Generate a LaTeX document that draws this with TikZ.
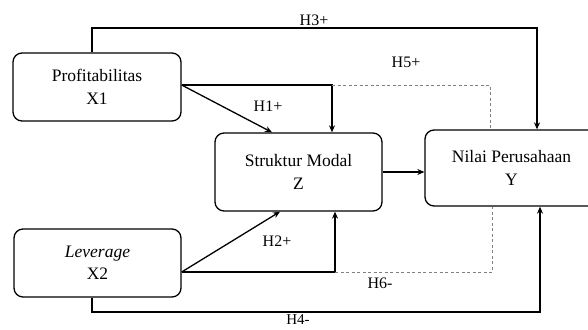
\documentclass[tikz,border=0pt]{standalone}
\usepackage{fontspec}
\setmainfont{Liberation Serif}
\usetikzlibrary{arrows.meta}
\begin{document}
\begin{tikzpicture}[x=1pt,y=-1pt,
  box/.style={draw, line width=1.3pt, rounded corners=9pt, align=center, inner sep=0pt,
    font=\fontsize{17.5}{22.5}\selectfont},
  arr/.style={line width=1.3pt, -{Stealth[length=7pt,width=6pt]}},
  ln/.style={line width=1.3pt},
  dsh/.style={line width=0.9pt, gray, dash pattern=on 3pt off 2.5pt},
  lbl/.style={font=\fontsize{16}{18}\selectfont, inner sep=0pt}]
\clip (0,0) rectangle (588,329);
\fill[white] (0,0) rectangle (588,329);
% boxes
\node[box, minimum width=168pt, minimum height=68pt] (P) at (97,87) {Profitabilitas\\X1};
\node[box, minimum width=167pt, minimum height=68pt] (L) at (97.5,263) {\textit{Leverage}\\X2};
\node[box, minimum width=167pt, minimum height=78pt] (S) at (298.5,172) {Struktur Modal\\Z};
\node[box, minimum width=173pt, minimum height=76pt] (N) at (511.5,168) {Nilai Perusahaan\\Y};
% helper coordinates
\coordinate (h3a) at (92,28);
\coordinate (h3b) at (537,28);
\coordinate (pa) at ([yshift=2pt]P.east);
\coordinate (pb) at (332,85);
\coordinate (h5) at (490,85);
\coordinate (la) at ([yshift=-9pt]L.east);
\coordinate (lb) at (335,272);
\coordinate (h6) at (492,272);
\coordinate (h4a) at (92,312);
\coordinate (h4b) at (540,312);
\coordinate (h1t) at (272,0);
\coordinate (h2t) at (280,0);
% connectors
\draw[arr] (P.north -| h3a) -- (h3a) -- (h3b) -- (N.north -| h3b);
\draw[arr] (pa) -- (S.north -| h1t);
\draw[arr] (pa) -- (pb) -- (S.north -| pb);
\draw[dsh] (pb) -- (h5) -- (N.north -| h5);
\draw[arr] (S.east) -- (S.east -| N.west);
\draw[arr] (la) -- (S.south -| h2t);
\draw[arr] (la) -- (lb) -- (S.south -| lb);
\draw[dsh] (lb) -- (h6) -- (N.south -| h6);
\draw[arr] (L.south -| h4a) -- (h4a) -- (h4b) -- (N.south -| h4b);
% labels
\node[lbl] (l3) at (314,20) {H3+};
\node[lbl] (l1) at (268,106) {H1+};
\node[lbl] (l5) at (406,62) {H5+};
\node[lbl] (l2) at (277,241) {H2+};
\node[lbl] (l6) at (380,283) {H6-};
\node[lbl, font=\fontsize{15}{17}\selectfont] (l4) at (298,320) {H4-};
\end{tikzpicture}
\end{document}
